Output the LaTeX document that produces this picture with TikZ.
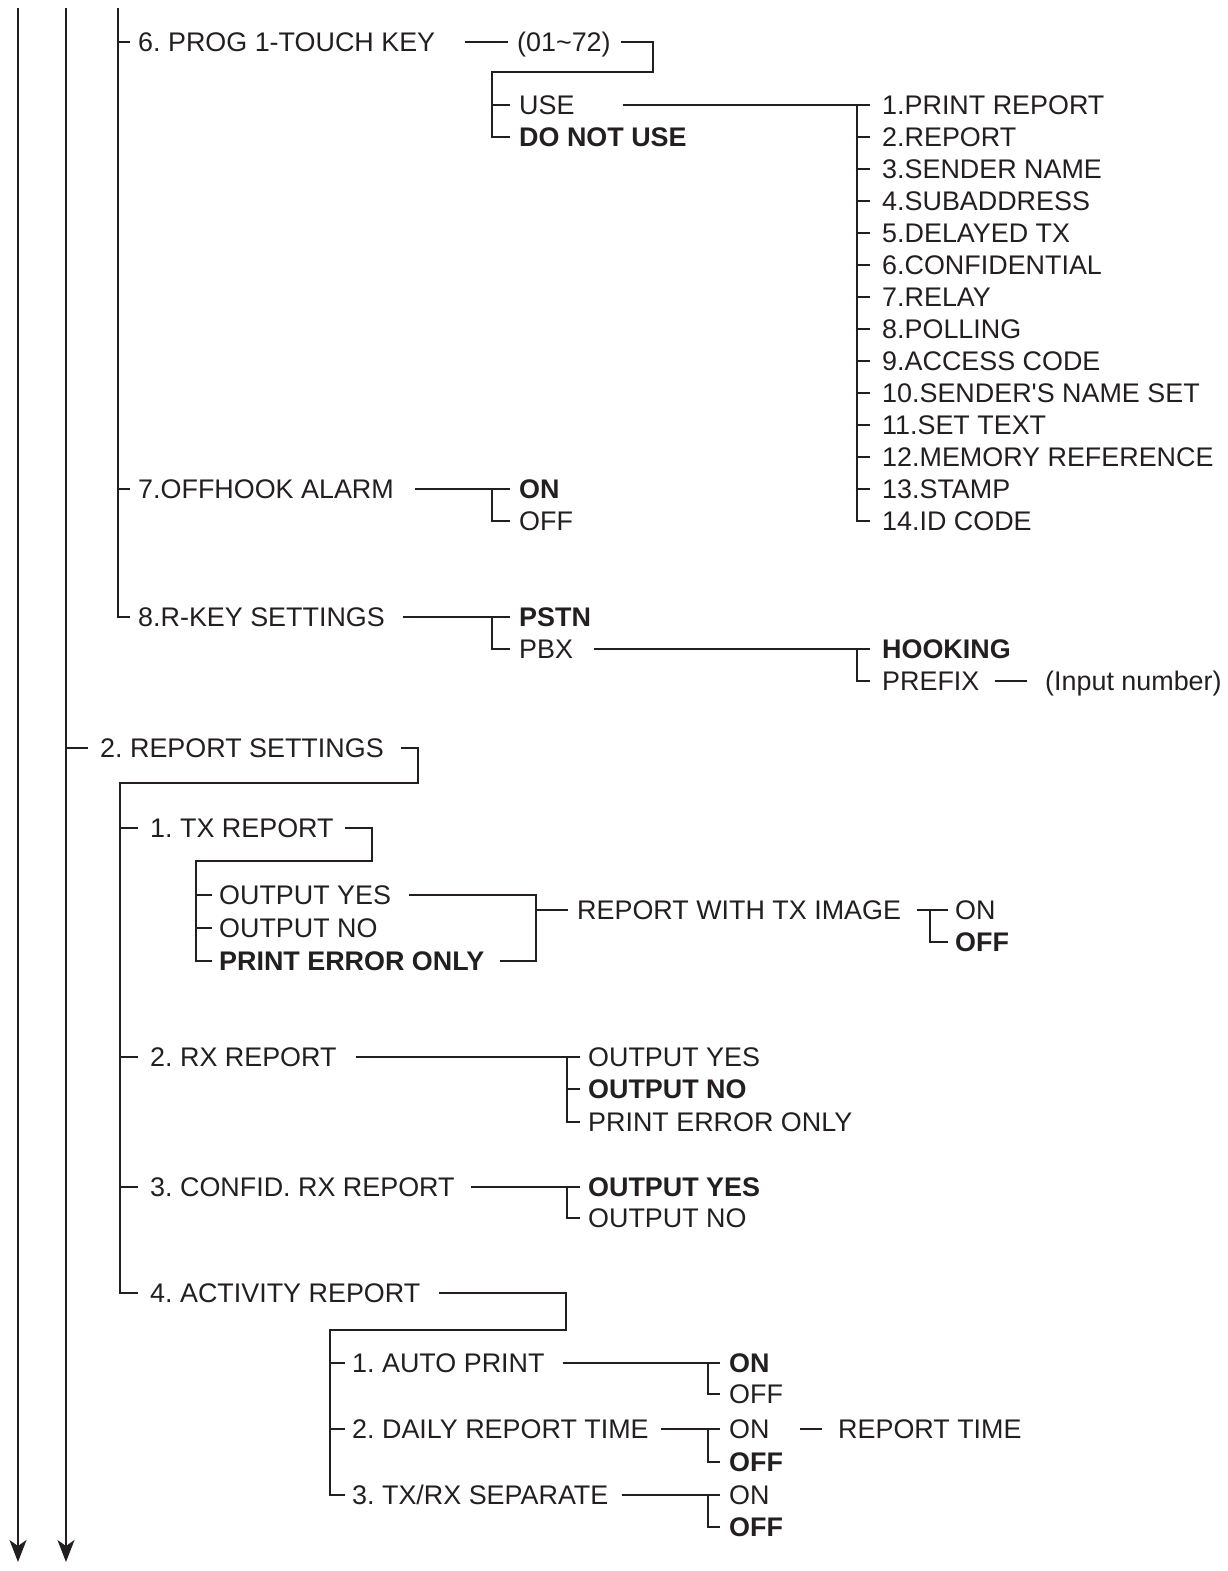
\documentclass[tikz,border=0pt]{standalone}
\usepackage{fontspec}
\setmainfont{Liberation Sans}[Ligatures=TeXOff]
\usetikzlibrary{arrows.meta}
\definecolor{ink}{HTML}{231F20}
\begin{document}
\frenchspacing
\begin{tikzpicture}[x=1pt,y=-1pt,
  lbl/.style={anchor=west, inner sep=0pt, text height=19pt, text depth=0pt,
              text=ink, font=\fontsize{26.9}{30}\selectfont},
  blbl/.style={lbl, font=\fontsize{26.9}{30}\selectfont\bfseries},
  ln/.style={draw=ink, line width=1.4pt},
  arr/.style={-{Stealth[length=22pt,width=17pt,inset=6pt]}}]
\useasboundingbox (0,0) rectangle (1227,1571);

% ---- labels -------------------------------------------------------
\node[lbl]  (n6)   at (138,42)  {6. PROG 1-TOUCH KEY};
\node[lbl]  (rng)  at (517,42)  {(01\char`\~72)};
\node[lbl]  (use)  at (519,105) {USE};
\node[blbl] (dnu)  at (519,137) {DO NOT USE};
\foreach \i/\t in {1/1.PRINT REPORT,2/2.REPORT,3/3.SENDER NAME,4/4.SUBADDRESS,
                   5/5.DELAYED TX,6/6.CONFIDENTIAL,7/7.RELAY,8/8.POLLING,
                   9/9.ACCESS CODE,10/10.SENDER'S NAME SET,11/11.SET TEXT,
                   12/12.MEMORY REFERENCE,13/13.STAMP,14/14.ID CODE}
  \node[lbl] (f\i) at (882,{105+32*(\i-1)}) {\t};
\node[lbl]  (n7)   at (138,489) {7.OFFHOOK ALARM};
\node[blbl] (on7)  at (519,489) {ON};
\node[lbl]  (off7) at (519,521) {OFF};
\node[lbl]  (n8)   at (138,617) {8.R-KEY SETTINGS};
\node[blbl] (pstn) at (519,617) {PSTN};
\node[lbl]  (pbx)  at (519,649) {PBX};
\node[blbl] (hook) at (882,649) {HOOKING};
\node[lbl]  (pre)  at (882,681) {PREFIX};
\node[lbl]  (inp)  at (1045,681) {(Input number)};

\node[lbl]  (rs)   at (100,748) {2. REPORT SETTINGS};
\node[lbl]  (tx)   at (150,828) {1. TX REPORT};
\node[lbl]  (txy)  at (219,895) {OUTPUT YES};
\node[lbl]  (txn)  at (219,928) {OUTPUT NO};
\node[blbl] (txe)  at (219,961) {PRINT ERROR ONLY};
\node[lbl]  (img)  at (577,910) {REPORT WITH TX IMAGE};
\node[lbl]  (imon) at (955,910) {ON};
\node[blbl] (imoff) at (955,942) {OFF};
\node[lbl]  (rx)   at (150,1057) {2. RX REPORT};
\node[lbl]  (rxy)  at (588,1057) {OUTPUT YES};
\node[blbl] (rxn)  at (588,1089) {OUTPUT NO};
\node[lbl]  (rxe)  at (588,1122) {PRINT ERROR ONLY};
\node[lbl]  (cf)   at (150,1187) {3. CONFID. RX REPORT};
\node[blbl] (cfy)  at (588,1187) {OUTPUT YES};
\node[lbl]  (cfn)  at (588,1218) {OUTPUT NO};
\node[lbl]  (act)  at (150,1293) {4. ACTIVITY REPORT};
\node[lbl]  (ap)   at (352,1363) {1. AUTO PRINT};
\node[blbl] (apon) at (729,1363) {ON};
\node[lbl]  (apoff) at (729,1394) {OFF};
\node[lbl]  (dr)   at (352,1429) {2. DAILY REPORT TIME};
\node[lbl]  (dron) at (729,1429) {ON};
\node[blbl] (droff) at (729,1462) {OFF};
\node[lbl]  (rt)   at (838,1429) {REPORT TIME};
\node[lbl]  (sep)  at (352,1495) {3. TX/RX SEPARATE};
\node[lbl]  (sepon) at (729,1495) {ON};
\node[blbl] (sepoff) at (729,1527) {OFF};

% ---- descending menu lines ----------------------------------------
\coordinate (a0) at (18,8);   \coordinate (a1) at (18,1562);
\coordinate (b0) at (66,8);   \coordinate (b1) at (66,1562);
\coordinate (c0) at (118,8);
\draw[ln,arr] (a0) -- (a1);
\draw[ln,arr] (b0) -- (b1);

% ---- items 6 to 8 -------------------------------------------------
\draw[ln] (c0) |- ([xshift=-8]n8.west);
\draw[ln] (c0 |- n6.west) -- ([xshift=-8]n6.west);
\draw[ln] (c0 |- n7.west) -- ([xshift=-8]n7.west);

\draw[ln] ([xshift=30]n6.east) -- ([xshift=-9]rng.west);
\coordinate (r6) at (653,72);
\coordinate (t6) at (492,72);
\draw[ln] ([xshift=10]rng.east) -| (r6) -- (t6) |- ([xshift=-9]dnu.west);
\draw[ln] (t6 |- use.west) -- ([xshift=-9]use.west);

\draw[ln] ([xshift=48]use.east) -- ([xshift=-12]f1.west);
\draw[ln] ([xshift=-25]f1.west) |- ([xshift=-12]f14.west);
\foreach \i in {2,...,13}
  \draw[ln] ([xshift=-25]f\i.west) -- ([xshift=-12]f\i.west);

\draw[ln] ([xshift=21]n7.east) -- ([xshift=-9]on7.west);
\draw[ln] ([xshift=-27]on7.west) |- ([xshift=-9]off7.west);

\draw[ln] ([xshift=18]n8.east) -- ([xshift=-9]pstn.west);
\draw[ln] ([xshift=-27]pstn.west) |- ([xshift=-9]pbx.west);
\draw[ln] ([xshift=21]pbx.east) -- ([xshift=-12]hook.west);
\draw[ln] ([xshift=-25]hook.west) |- ([xshift=-12]pre.west);
\draw[ln] ([xshift=15]pre.east) -- ([xshift=-18]inp.west);

% ---- report settings ----------------------------------------------
\draw[ln] (b0 |- rs.west) -- ([xshift=-12]rs.west);
\coordinate (r2) at (418,783);
\coordinate (t2) at (120,783);
\draw[ln] ([xshift=17]rs.east) -| (r2) -- (t2) |- ([xshift=-12]act.west);
\foreach \n in {tx,rx,cf}
  \draw[ln] (t2 |- \n.west) -- ([xshift=-12]\n.west);

% TX report
\coordinate (r3) at (372,861);
\coordinate (t3) at (196,861);
\draw[ln] ([xshift=11]tx.east) -| (r3) -- (t3) |- ([xshift=-7]txe.west);
\foreach \n in {txy,txn}
  \draw[ln] (t3 |- \n.west) -- ([xshift=-7]\n.west);
\coordinate (k3) at (536,961);
\draw[ln] ([xshift=18]txy.east) -| (k3) -- ([xshift=16]txe.east);
\draw[ln] (k3 |- img.west) -- ([xshift=-9]img.west);
\draw[ln] ([xshift=16]img.east) -- ([xshift=-7]imon.west);
\draw[ln] ([xshift=-25]imon.west) |- ([xshift=-7]imoff.west);

% RX report
\draw[ln] ([xshift=19]rx.east) -- ([xshift=-8]rxy.west);
\draw[ln] ([xshift=-21]rxy.west) |- ([xshift=-8]rxe.west);
\draw[ln] ([xshift=-21]rxn.west) -- ([xshift=-8]rxn.west);

% confidential RX report
\draw[ln] ([xshift=16]cf.east) -- ([xshift=-8]cfy.west);
\draw[ln] ([xshift=-21]cfy.west) |- ([xshift=-8]cfn.west);

% activity report
\coordinate (r4) at (566,1330);
\coordinate (t4) at (330,1330);
\draw[ln] ([xshift=19]act.east) -| (r4) -- (t4) |- ([xshift=-7]sep.west);
\foreach \n in {ap,dr}
  \draw[ln] (t4 |- \n.west) -- ([xshift=-7]\n.west);

\draw[ln] ([xshift=18]ap.east) -- ([xshift=-9]apon.west);
\draw[ln] ([xshift=-21]apon.west) |- ([xshift=-9]apoff.west);
\draw[ln] ([xshift=12]dr.east) -- ([xshift=-9]dron.west);
\draw[ln] ([xshift=-21]dron.west) |- ([xshift=-9]droff.west);
\draw[ln] ([xshift=30]dron.east) -- ([xshift=-16]rt.west);
\draw[ln] ([xshift=13]sep.east) -- ([xshift=-9]sepon.west);
\draw[ln] ([xshift=-21]sepon.west) |- ([xshift=-9]sepoff.west);
\end{tikzpicture}
\end{document}
